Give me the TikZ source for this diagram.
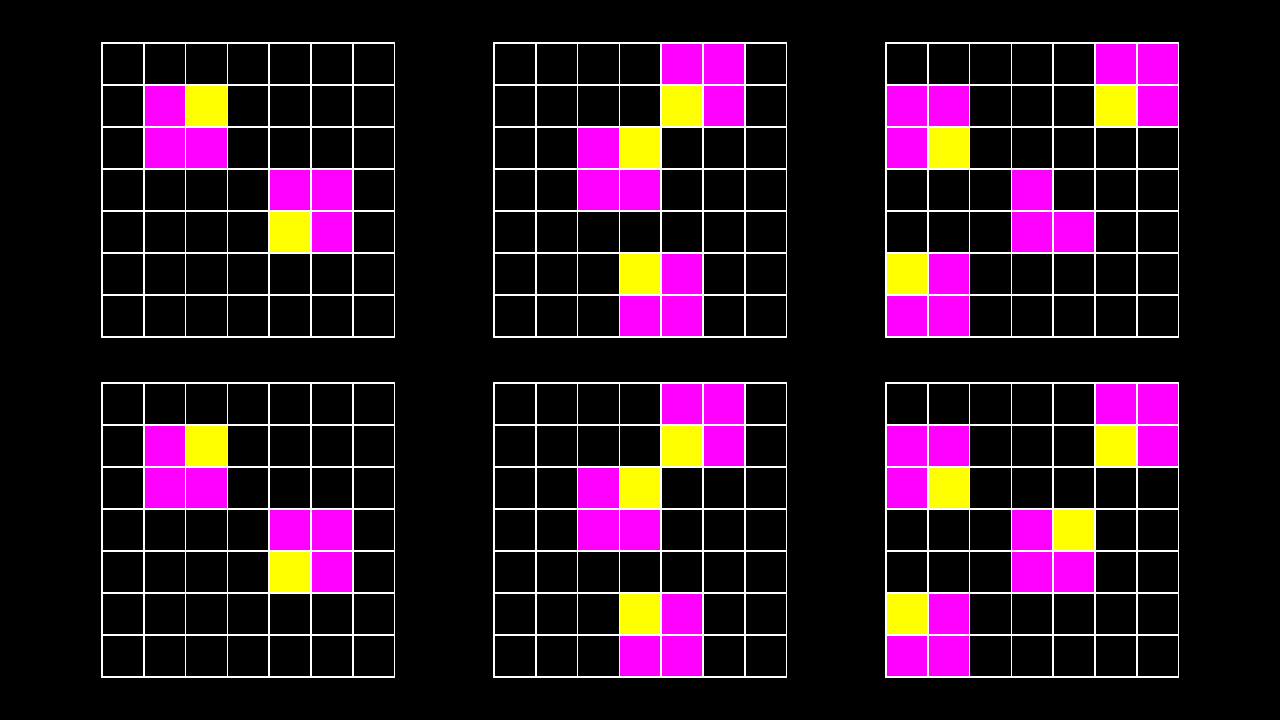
\documentclass[tikz,border=0pt]{standalone}
\definecolor{mag}{HTML}{FF00FF}
\definecolor{yel}{HTML}{FFFF00}
\tikzset{gridline/.style={white,line width=1.6pt,line cap=rect}}
\newcommand{\mycell}[3]{\fill[#3] (#1*41.8,#2*42) rectangle ++(41.8,42);}
\newcommand{\mygrid}{\foreach \k in {0,...,7}{\draw[gridline] (\k*41.8,0) -- (\k*41.8,294);\draw[gridline] (0,\k*42) -- (292.6,\k*42);}}
\begin{document}
\begin{tikzpicture}[x=1pt,y=-1pt]
\fill[black] (0,0) rectangle (1280,720);
\useasboundingbox (0,0) rectangle (1280,720);
% grid 1 and 4
\foreach \oy in {43,383}{
\begin{scope}[shift={(102,\oy)}]
\mycell{1}{1}{mag}\mycell{2}{1}{yel}
\mycell{1}{2}{mag}\mycell{2}{2}{mag}
\mycell{4}{3}{mag}\mycell{5}{3}{mag}
\mycell{4}{4}{yel}\mycell{5}{4}{mag}
\mygrid
\end{scope}
% grid 2 and 5
\begin{scope}[shift={(494,\oy)}]
\mycell{4}{0}{mag}\mycell{5}{0}{mag}
\mycell{4}{1}{yel}\mycell{5}{1}{mag}
\mycell{2}{2}{mag}\mycell{3}{2}{yel}
\mycell{2}{3}{mag}\mycell{3}{3}{mag}
\mycell{3}{5}{yel}\mycell{4}{5}{mag}
\mycell{3}{6}{mag}\mycell{4}{6}{mag}
\mygrid
\end{scope}
}
% grid 3
\begin{scope}[shift={(886,43)}]
\mycell{5}{0}{mag}\mycell{6}{0}{mag}
\mycell{0}{1}{mag}\mycell{1}{1}{mag}\mycell{5}{1}{yel}\mycell{6}{1}{mag}
\mycell{0}{2}{mag}\mycell{1}{2}{yel}
\mycell{3}{3}{mag}
\mycell{3}{4}{mag}\mycell{4}{4}{mag}
\mycell{0}{5}{yel}\mycell{1}{5}{mag}
\mycell{0}{6}{mag}\mycell{1}{6}{mag}
\mygrid
\end{scope}
% grid 6
\begin{scope}[shift={(886,383)}]
\mycell{5}{0}{mag}\mycell{6}{0}{mag}
\mycell{0}{1}{mag}\mycell{1}{1}{mag}\mycell{5}{1}{yel}\mycell{6}{1}{mag}
\mycell{0}{2}{mag}\mycell{1}{2}{yel}
\mycell{3}{3}{mag}\mycell{4}{3}{yel}
\mycell{3}{4}{mag}\mycell{4}{4}{mag}
\mycell{0}{5}{yel}\mycell{1}{5}{mag}
\mycell{0}{6}{mag}\mycell{1}{6}{mag}
\mygrid
\end{scope}
\end{tikzpicture}
\end{document}
